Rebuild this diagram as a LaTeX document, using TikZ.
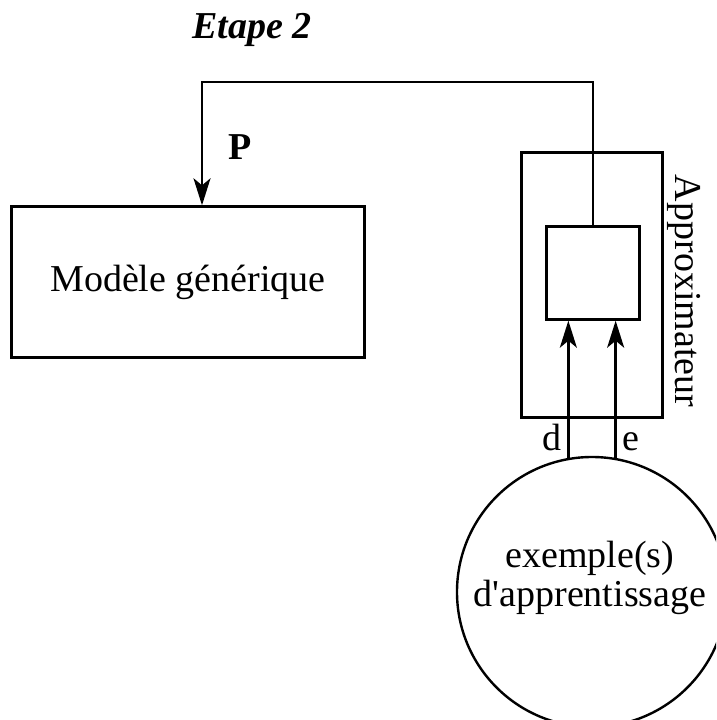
\documentclass[tikz,border=0pt]{standalone}
\usepackage{fontspec}
\setmainfont{Liberation Serif}
\usetikzlibrary{arrows.meta}
\begin{document}
\begin{tikzpicture}[x=1pt, y=-1pt, line width=2.4pt, font=\fontsize{38}{34}\selectfont]
\tikzstyle{block}=[draw, rectangle, inner sep=0pt]
\tikzstyle{flow}=[-{Stealth[length=27pt, width=17pt, inset=7pt]}]
\useasboundingbox (0,0) rectangle (716,720);
\clip (0,0) rectangle (716,720);
\node[font=\fontsize{38}{34}\selectfont\bfseries\itshape] (etape) at (252,30) {Etape 2};
\node[block, minimum width=353pt, minimum height=151pt] (modele) at (188,282) {Modèle générique};
\node[block, minimum width=141pt, minimum height=265pt] (approx) at (592,285) {};
\node[block, minimum width=93pt, minimum height=93pt] (noyau) at (593,273) {};
\node[rotate=-90, anchor=south, inner sep=3pt] (approxlabel) at ([yshift=-6pt]approx.east) {Approximateur};
\node[draw, circle, minimum size=270pt, inner sep=0pt] (exemple) at (592,592) {};
\node[align=center, inner sep=0pt] (exempletexte) at (590,578) {exemple(s)\\[4pt]d\textquotesingle apprentissage};
\node[font=\fontsize{38}{34}\selectfont\bfseries] (p) at (240,147) {P};
\coordinate (coin) at (202,82);
% retour des parametres vers le modele
\draw[flow] (noyau.north) |- (coin) -- (coin |- modele.north);
% entrees d et e
\draw[flow] (exemple.100) node[above left, inner sep=6pt] (d) {d} -- (exemple.100 |- noyau.south);
\draw[flow] (exemple.80) node[above right, inner sep=6pt] (e) {e} -- (exemple.80 |- noyau.south);
\end{tikzpicture}
\end{document}
